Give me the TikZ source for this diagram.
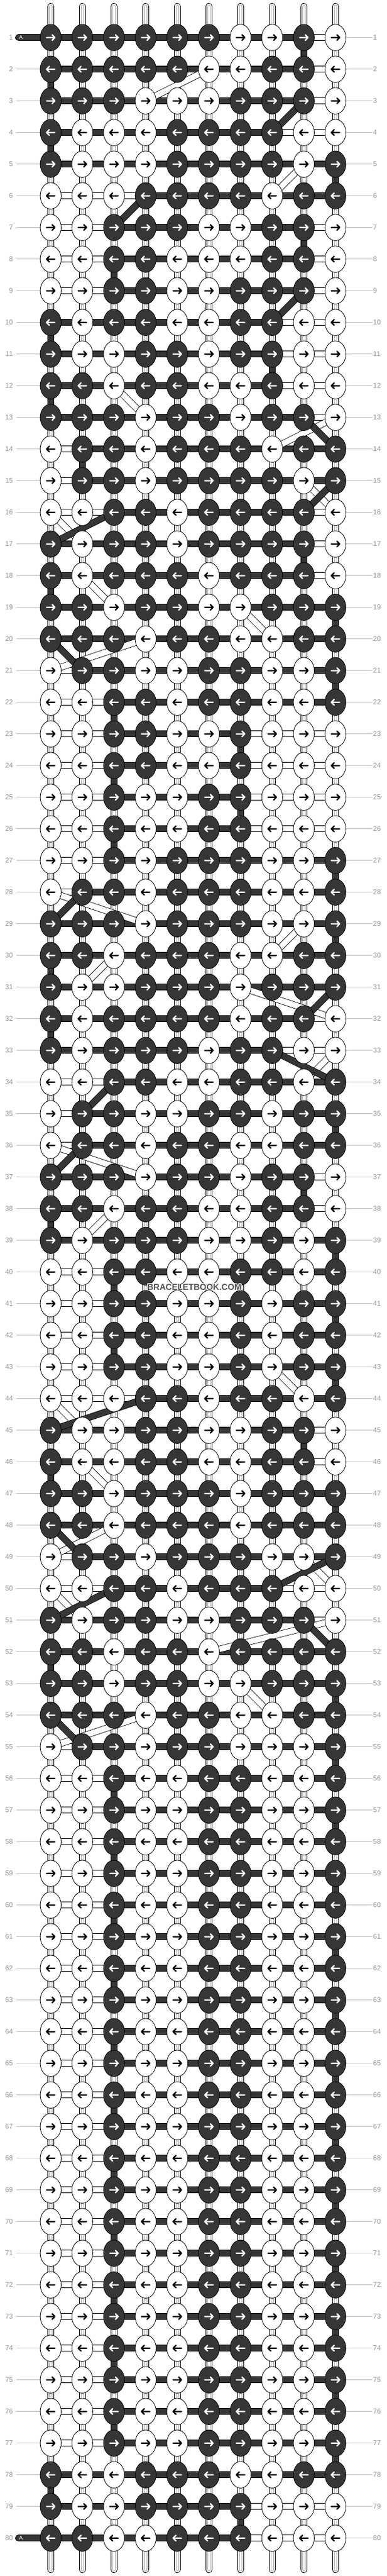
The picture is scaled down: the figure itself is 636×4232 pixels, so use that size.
\documentclass[tikz,border=0pt]{standalone}
\usepackage{fontspec}
\setmainfont{Liberation Sans}
\usetikzlibrary{shapes.geometric}

\pgfdeclarelayer{background}
\pgfsetlayers{background,main}

\definecolor{thread}{RGB}{54,54,54}
\definecolor{labelgray}{RGB}{150,150,150}
\definecolor{guidegray}{RGB}{190,190,190}
\definecolor{stripegray}{RGB}{175,175,175}

\tikzset{
  arrow r/.pic={\draw[line width=2.3pt,line cap=round] (-6.8,0) -- (6.8,0) (2.3,-4.6) -- (6.8,0) -- (2.3,4.6);}
}

\begin{document}
\begin{tikzpicture}[x=1pt,y=-1pt,line join=round]
  \tikzstyle{knot}=[ellipse,draw=black,line width=0.8pt,minimum width=34.4pt,minimum height=43.4pt,inner sep=0pt]
  \tikzstyle{knot1}=[knot,fill=thread]
  \tikzstyle{knot0}=[knot,fill=white]
  \tikzstyle{tip1}=[white]
  \tikzstyle{tip0}=[black]
  \tikzstyle{link1}=[draw=black,double=thread,double distance=9.4pt,line width=0.8pt]
  \tikzstyle{link0}=[draw=black,double=white,double distance=9.4pt,line width=0.8pt]
  \tikzstyle{strand}=[draw=black,line width=11pt,postaction={draw=white,line width=9.4pt},
                      postaction={draw=stripegray,line width=5pt},postaction={draw=white,line width=3.6pt}]
  \tikzstyle{guide}=[guidegray,line width=1pt]
  \tikzstyle{rownum}=[labelgray,inner sep=0pt,font=\fontsize{11.5}{12}\selectfont]
  \tikzstyle{wm}=[inner sep=0pt,font=\bfseries\fontsize{14}{14}\selectfont]

  \useasboundingbox (0,0) rectangle (636,4232);

  % knots: row / first / last column of the dark thread / colours
  \foreach \rw/\sa/\sb/\ks in {
    1/1/9/{1,1,1,1,1,1,0,0,1,0},   2/1/9/{1,1,1,1,1,0,0,1,1,0},
    3/1/9/{1,1,1,0,0,0,1,1,1,0},   4/1/8/{1,0,0,0,1,1,1,1,0,0},
    5/1/10/{1,0,0,0,1,1,1,1,0,1},  6/4/10/{0,0,0,1,1,1,1,0,1,1},
    7/3/9/{0,0,1,1,1,0,0,1,1,0},   8/3/9/{0,0,1,1,0,0,0,1,1,0},
    9/3/9/{0,0,1,1,0,0,1,1,1,0},   10/1/8/{1,0,1,1,0,0,1,1,0,0},
    11/1/8/{1,0,0,1,1,0,1,1,0,0},  12/1/8/{1,1,0,1,1,0,0,1,0,0},
    13/1/9/{1,1,1,0,1,1,0,1,1,0},  14/2/10/{0,1,1,0,1,1,1,0,1,1},
    15/2/10/{0,1,1,0,1,1,1,1,0,1}, 16/3/9/{0,0,1,1,0,1,1,1,1,0},
    17/1/9/{1,0,1,1,0,1,1,1,1,0},  18/1/9/{1,0,1,1,1,0,1,1,1,0},
    19/1/10/{1,1,0,1,1,0,0,1,1,1}, 20/1/10/{1,1,1,0,1,1,0,0,1,1},
    21/2/10/{0,1,1,0,0,1,1,0,0,1}, 22/3/10/{0,0,1,1,0,1,1,0,0,1},
    23/3/7/{0,0,1,1,0,0,1,0,0,0},  24/3/7/{0,0,1,1,0,0,1,0,0,0},
    25/3/7/{0,0,1,0,0,1,1,0,0,0},  26/3/7/{0,0,1,0,0,1,1,0,0,0},
    27/3/10/{0,0,1,0,1,1,1,0,0,1}, 28/2/10/{0,1,1,0,1,1,1,0,0,1},
    29/1/10/{1,1,1,0,1,1,1,0,0,1}, 30/1/10/{1,1,0,1,1,1,0,0,1,1},
    31/1/10/{1,0,0,1,1,1,0,1,1,1}, 32/1/9/{1,0,1,1,1,1,0,1,1,0},
    33/1/8/{1,0,1,1,1,0,1,1,0,0},  34/3/10/{0,0,1,1,0,0,1,1,0,1},
    35/2/10/{0,1,1,0,0,1,1,0,1,1}, 36/2/10/{0,1,1,0,1,1,0,0,1,1},
    37/1/9/{1,1,1,0,1,1,0,1,1,0},  38/1/9/{1,1,0,1,1,0,0,1,1,0},
    39/1/10/{1,0,1,1,1,0,0,1,0,1}, 40/3/10/{0,0,1,1,0,0,1,1,0,1},
    41/3/10/{0,0,1,1,0,0,1,0,1,1}, 42/3/10/{0,0,1,1,0,0,1,0,1,1},
    43/3/10/{0,0,1,1,0,0,1,0,1,1}, 44/4/10/{0,0,0,1,1,0,1,1,0,1},
    45/1/9/{1,0,0,1,1,0,0,1,1,0},  46/1/9/{1,0,0,1,1,0,0,1,1,0},
    47/1/10/{1,1,0,1,1,1,0,1,1,1}, 48/1/10/{1,1,0,1,1,1,0,1,1,1},
    49/2/10/{0,1,1,0,1,1,1,0,0,1}, 50/3/8/{0,0,1,1,0,1,1,1,0,0},
    51/1/9/{1,0,1,1,0,0,1,1,1,0},  52/1/10/{1,1,0,1,1,0,1,1,1,1},
    53/1/10/{1,1,0,1,1,0,0,1,1,1}, 54/1/10/{1,1,1,0,1,1,0,0,1,1},
    55/2/10/{0,1,1,0,1,1,0,0,0,1}, 56/3/10/{0,0,1,0,0,1,1,0,0,1},
    57/3/10/{0,0,1,0,0,1,1,0,0,1}, 58/3/10/{0,0,1,0,0,1,1,0,0,1},
    59/3/10/{0,0,1,0,0,1,1,0,0,1}, 60/3/10/{0,0,1,0,0,1,1,0,0,1},
    61/3/10/{0,0,1,0,0,1,1,0,0,1}, 62/3/10/{0,0,1,0,0,1,1,0,0,1},
    63/3/10/{0,0,1,0,0,1,1,0,0,1}, 64/3/10/{0,0,1,0,0,1,1,0,0,1},
    65/3/10/{0,0,1,0,0,1,1,0,0,1}, 66/3/10/{0,0,1,0,0,1,1,0,0,1},
    67/3/10/{0,0,1,0,0,1,1,0,0,1}, 68/3/10/{0,0,1,0,0,1,1,0,0,1},
    69/3/10/{0,0,1,0,0,1,1,0,0,1}, 70/3/10/{0,0,1,0,0,1,1,0,0,1},
    71/3/10/{0,0,1,0,0,1,1,0,0,1}, 72/3/10/{0,0,1,0,0,1,1,0,0,1},
    73/3/10/{0,0,1,0,0,1,1,0,0,1}, 74/3/10/{0,0,1,0,0,1,1,0,0,1},
    75/3/10/{0,0,1,0,0,1,1,0,0,1}, 76/3/10/{0,0,1,0,0,1,1,0,0,1},
    77/3/10/{0,0,1,0,0,1,1,0,0,1}, 78/1/10/{1,0,0,1,1,1,0,0,1,1},
    79/1/7/{1,0,0,1,1,1,1,0,0,0},  80/1/7/{1,1,0,0,1,1,1,0,0,0}}
  {
    \pgfmathsetmacro\dirx{1-2*mod(\rw+1,2)}
    \foreach \kv [count=\cl] in \ks
    {
      \node[knot\kv] (k-\rw-\cl) at ({83.3+52*(\cl-1)},{61.7+52*(\rw-1)}) {};
      \pic[tip\kv,xscale=\dirx] at (k-\rw-\cl) {arrow r};
    }
    \node[rownum,anchor=east] (ll-\rw) at (21.5,{61.7+52*(\rw-1)}) {\rw};
    \node[rownum,anchor=west] (rl-\rw) at (613,{61.7+52*(\rw-1)}) {\rw};
    \ifodd\rw\relax
      \expandafter\xdef\csname din\rw\endcsname{\sa}%
      \expandafter\xdef\csname dout\rw\endcsname{\sb}%
    \else
      \expandafter\xdef\csname din\rw\endcsname{\sb}%
      \expandafter\xdef\csname dout\rw\endcsname{\sa}%
    \fi
    \begin{pgfonlayer}{background}
      \foreach \cl in {1,...,9}
      {
        \pgfmathtruncatemacro\cn{\cl+1}
        \pgfmathtruncatemacro\inside{and(\cl>=\sa,\cn<=\sb)}
        \draw[link\inside] (k-\rw-\cl.center) -- (k-\rw-\cn.center);
      }
    \end{pgfonlayer}
  }

  \begin{pgfonlayer}{background}
    % loose ends and the A thread
    \foreach \cl in {1,...,10}
    {
      \coordinate (top-\cl) at ({83.3+52*(\cl-1)},10.5);
      \coordinate (bot-\cl) at ({83.3+52*(\cl-1)},4221.5);
      \draw[strand,line cap=round] (top-\cl) -- (k-1-\cl.center);
      \draw[strand,line cap=round] (bot-\cl) -- (k-80-\cl.center);
    }
    \coordinate (a-in) at (30.5,61.7);
    \coordinate (a-out) at (30.5,4169.7);
    \draw[link1,line cap=round] (a-in) -- (k-1-1.center);
    \draw[link1,line cap=round] (a-out) -- (k-80-1.center);

    % row guides
    \foreach \rw in {1,...,80}
      \draw[guide,shorten >=1.5pt] (k-\rw-10.east) -- (rl-\rw.west);
    \foreach \rw in {2,...,79}
      \draw[guide,shorten <=5pt] (ll-\rw.east) -- (k-\rw-1.west);

    % strands between rows
    \foreach \rw in {1,...,79}
    {
      \pgfmathtruncatemacro\rn{\rw+1}
      \edef\dfrom{\csname dout\rw\endcsname}
      \edef\dto{\csname din\rn\endcsname}
      \foreach \cl in {1,...,10}
      {
        \pgfmathtruncatemacro\down{and(\cl==\dfrom,\dfrom==\dto)}
        \ifnum\down=1\relax
          \draw[link1] (k-\rw-\cl.center) -- (k-\rn-\cl.center);
        \else
          \draw[strand] (k-\rw-\cl.center) -- (k-\rn-\cl.center);
        \fi
      }
    }

    % white strands moving over
    \foreach \rw/\ca/\cb in {2/6/4, 5/9/8, 12/3/4, 13/10/8, 15/9/10, 16/1/2,
        18/2/3, 19/7/8, 20/4/1, 28/1/4, 29/9/8, 30/3/2, 31/7/10, 33/10/9,
        36/1/4, 38/3/2, 43/8/9, 44/1/2, 46/2/3, 48/3/1, 49/9/10, 50/1/2,
        51/10/6, 53/7/8, 54/4/1}
    {
      \pgfmathtruncatemacro\rn{\rw+1}
      \draw[link0] (k-\rw-\ca.center) -- (k-\rn-\cb.center);
    }

    % dark thread moving over
    \foreach \rw in {1,...,79}
    {
      \pgfmathtruncatemacro\rn{\rw+1}
      \edef\dfrom{\csname dout\rw\endcsname}
      \edef\dto{\csname din\rn\endcsname}
      \ifnum\dfrom=\dto\relax\else
        \draw[link1] (k-\rw-\dfrom.center) -- (k-\rn-\dto.center);
      \fi
    }
  \end{pgfonlayer}

  \node[white,inner sep=0pt,font=\fontsize{9}{9}\selectfont] (a-top) at (34.5,61.7) {A};
  \node[white,inner sep=0pt,font=\fontsize{9}{9}\selectfont] (a-bottom) at (34.5,4169.7) {A};

  \foreach \dx/\dy [count=\h] in {-1/0,1/0,0/-1,0/1,-1/-1,1/1,-1/1,1/-1}
    \node[wm,white] (halo-\h) at ({319.5+\dx},{2115+\dy}) {BRACELETBOOK.COM};
  \node[wm,text=thread!85] (mark) at (319.5,2115) {BRACELETBOOK.COM};
\end{tikzpicture}
\end{document}
